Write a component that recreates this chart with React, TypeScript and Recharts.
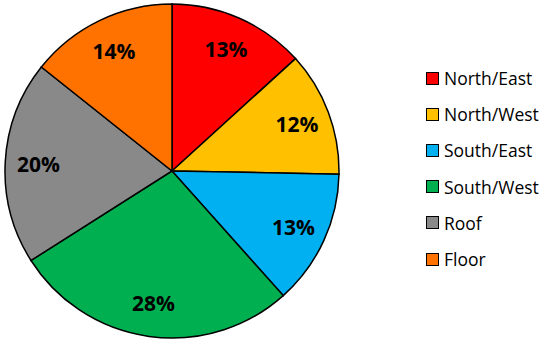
import React from "react";
import { PieChart, Pie, Cell, Legend } from "recharts";

const categories = ["North/East", "North/West", "South/East", "South/West", "Roof", "Floor"];
const shares = [13.25, 12.05, 13.1, 27.6, 19.7, 14.3];
const colors = ["#FF0000", "#FFC000", "#00B0F0", "#00B050", "#898989", "#FF7200"];

const data = categories.map((name, i) => ({ name, value: shares[i] }));

const RAD = Math.PI / 180;

const renderLabel = (props: any) => {
  const { cx, cy, midAngle, outerRadius, value } = props;
  const r = outerRadius * 0.8;
  const x = cx + r * Math.cos(-midAngle * RAD);
  const y = cy + r * Math.sin(-midAngle * RAD);
  return (
    <text
      x={x}
      y={y}
      textAnchor="middle"
      dominantBaseline="central"
      fill="#000"
      fontFamily="'Open Sans', sans-serif"
      fontWeight={700}
      fontSize={21}
    >
      {`${Math.round(value)}%`}
    </text>
  );
};

const renderLegend = () => (
  <div style={{ fontFamily: "'Open Sans', sans-serif", fontSize: 17.5, color: "#000" }}>
    {categories.map((c, i) => (
      <div key={c} style={{ height: 36.2, display: "flex", alignItems: "center" }}>
        <span
          style={{
            display: "inline-block",
            width: 11,
            height: 11,
            background: colors[i],
            border: "1.5px solid #000",
            marginRight: 5,
          }}
        />
        <span>{c}</span>
      </div>
    ))}
  </div>
);

export default function App() {
  return (
    <div style={{ position: "absolute", left: 0, top: 0, width: 550, height: 343, background: "#fff" }}>
      <PieChart width={550} height={343} margin={{ top: 0, right: 0, bottom: 0, left: 0 }}>
        <Pie
          data={data}
          dataKey="value"
          nameKey="name"
          cx={172}
          cy={171}
          outerRadius={167}
          startAngle={90}
          endAngle={-270}
          stroke="#000"
          strokeWidth={1.5}
          label={renderLabel}
          labelLine={false}
          isAnimationActive={false}
        >
          {data.map((d, i) => (
            <Cell key={d.name} fill={colors[i]} />
          ))}
        </Pie>
        <Legend
          content={renderLegend}
          wrapperStyle={{ position: "absolute", left: 426, top: 60, width: 124, bottom: "auto" }}
        />
      </PieChart>
    </div>
  );
}
